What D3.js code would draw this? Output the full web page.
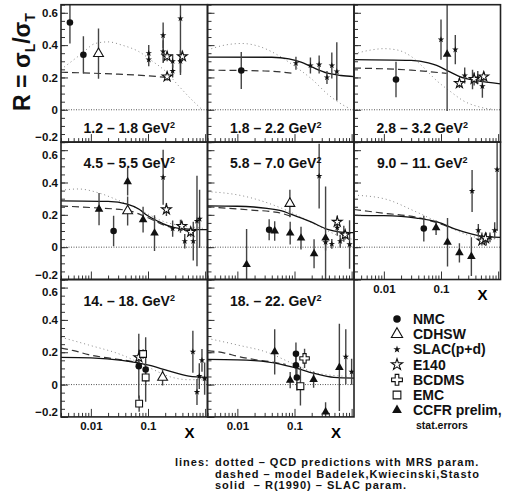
<!DOCTYPE html>
<html>
<head>
<meta charset="utf-8">
<script src="https://cdn.jsdelivr.net/npm/d3@7"></script>
<style>
  html, body { margin: 0; padding: 0; background: #fff; }
  svg { display: block; font-family: "Liberation Sans", Arial, sans-serif; font-weight: bold; }
</style>
</head>
<body>
<svg id="chart" width="511" height="504"></svg>
<script>
// Q^2 bins, one panel each
const qBins = ["1.2 – 1.8", "1.8 – 2.2", "2.8 – 3.2", "4.5 – 5.5", "5.8 – 7.0", "9.0 – 11.", "14. – 18.", "18. – 22."];

// measurements: [panel, x, R, error]
const nmc = [[0,0.0043,0.54,0.13],[0,0.0074,0.34,0.115],[1,0.0117,0.243,0.115],[2,0.0163,0.187,0.11],
  [3,0.025,0.10,0.095],[4,0.036,0.108,0.065],[5,0.05,0.115,0.08],[6,0.069,0.114,0.2],[6,0.091,0.093,0.2],
  [7,0.106,0.19,0.07],[7,0.106,0.12,0.08],[7,0.11,0.044,0.08]];
const cdhsw = [[0,0.0136,0.347,0.155],[3,0.044,0.224,0.09],[4,0.083,0.27,0.085],[6,0.18,0.044,0.05]];
const slac = [[0,0.103,0.35,0.05],[0,0.103,0.31,0.04],[0,0.184,0.46,0.08],[0,0.184,0.36,0.07],[0,0.27,0.30,0.04],
  [0,0.27,0.24,0.04],[0,0.37,0.565,0.35],[0,0.37,0.30,0.07],
  [1,0.106,0.288,0.04],[1,0.19,0.274,0.05],[1,0.27,0.28,0.055],[1,0.37,0.20,0.04],[1,0.45,0.274,0.08],[1,0.55,0.237,0.18],
  [2,0.10,0.434,0.125],[2,0.178,0.372,0.09],[2,0.26,0.212,0.05],[2,0.356,0.187,0.06],[2,0.44,0.20,0.04],[2,0.53,0.145,0.07],
  [3,0.184,0.432,0.17],[3,0.27,0.115,0.05],[3,0.37,0.129,0.04],[3,0.44,0.037,0.045],[3,0.62,0.037,0.12],[3,0.72,0.162,0.28],[3,0.8,0.175,0.18],
  [4,0.27,0.44,0.2],[4,0.35,0.03,0.05],[4,0.45,0.02,0.03],[4,0.56,0.12,0.05],[4,0.63,0.037,0.04],[4,0.73,0.083,0.05],[4,0.92,0.017,0.15],
  [5,0.35,0.347,0.13],[5,0.45,0.104,0.04],[5,0.52,0.06,0.03],[5,0.62,0.05,0.04],[5,0.72,0.06,0.03],[5,0.87,0.104,0.05],[5,0.96,0.48,0.38],
  [6,0.61,0.203,0.13],[6,0.72,-0.046,0.08],[6,0.79,0.052,0.08],[6,0.88,0.15,0.07],[6,0.98,0.037,0.1],
  [7,0.79,0.172,0.17],[7,1.0,0.079,0.08]];
const e140 = [[0,0.216,0.33,0.03],[0,0.216,0.205,0.025],[0,0.40,0.33,0.03],
  [2,0.21,0.164,0.03],[2,0.38,0.19,0.04],[2,0.56,0.205,0.03],
  [3,0.21,0.233,0.04],[3,0.39,0.13,0.03],[3,0.56,0.094,0.03],
  [4,0.56,0.156,0.04],[4,0.77,0.077,0.03],
  [5,0.52,0.04,0.03],[5,0.6,0.055,0.03],
  [6,0.069,0.168,0.05]];
const bcdms = [[7,0.15,0.162,0.06]];
const emc = [[6,0.07,-0.118,0.05],[6,0.082,0.189,0.03],[6,0.091,0.044,0.03],[7,0.127,-0.01,0.12]];
const ccfr = [[2,0.128,0.343,0.35],
  [3,0.0139,0.235,0.1],[3,0.044,0.405,0.085],[3,0.082,0.17,0.08],[3,0.13,0.087,0.11],
  [4,0.0145,-0.108,0.22],[4,0.045,0.1,0.06],[4,0.084,0.087,0.07],[4,0.13,0.056,0.07],[4,0.22,-0.041,0.09],[4,0.35,0.056,0.32],
  [5,0.082,0.12,0.045],[5,0.13,0.03,0.15],[5,0.21,-0.035,0.06],[5,0.34,-0.058,0.12],
  [7,0.045,0.203,0.14],[7,0.084,0.027,0.05],[7,0.216,0.031,0.05],[7,0.35,-0.17,0.06],[7,0.61,0.106,0.27]];

// model curves per panel: [x, R]
const qcdMRS = [
  [[0.003,0.25],[0.0037,0.274],[0.0069,0.347],[0.0119,0.41],[0.02,0.42],[0.035,0.40],[0.069,0.36],[0.12,0.30],[0.2,0.24],[0.34,0.15],[0.52,0.08],[0.89,0.0]],
  [[0.003,0.37],[0.006,0.40],[0.012,0.41],[0.025,0.39],[0.05,0.34],[0.1,0.27],[0.2,0.19],[0.4,0.09],[0.7,0.03],[0.9,0.01]],
  [[0.003,0.345],[0.006,0.37],[0.01,0.378],[0.017,0.37],[0.03,0.33],[0.05,0.26],[0.084,0.18],[0.15,0.11],[0.245,0.056],[0.5,0.015],[1.0,0.0]],
  [[0.003,0.352],[0.006,0.36],[0.0145,0.333],[0.03,0.29],[0.056,0.25],[0.1,0.205],[0.166,0.166],[0.3,0.14],[0.49,0.129],[1.0,0.115]],
  [[0.003,0.343],[0.006,0.335],[0.0114,0.32],[0.03,0.28],[0.06,0.24],[0.128,0.187],[0.3,0.12],[0.6,0.07],[1.0,0.05]],
  [[0.003,0.322],[0.01,0.30],[0.037,0.218],[0.145,0.12],[0.4,0.062],[1.0,0.05]],
  [[0.003,0.293],[0.0091,0.245],[0.035,0.183],[0.103,0.106],[0.25,0.047],[0.52,0.03],[1.0,0.03]],
  [[0.003,0.286],[0.01,0.245],[0.033,0.2],[0.1,0.125],[0.25,0.07],[0.9,0.05]]
];
const modelBKS = [
  [[0.003,0.232],[0.03,0.22],[0.1,0.21],[0.21,0.20]],
  [[0.003,0.245],[0.03,0.24],[0.1,0.225]],
  [[0.003,0.258],[0.03,0.245],[0.125,0.225]],
  [[0.003,0.255],[0.01,0.245],[0.043,0.228],[0.096,0.185],[0.216,0.13],[0.37,0.115],[0.6,0.11]],
  [[0.003,0.25],[0.017,0.23],[0.05,0.215],[0.09,0.19]],
  [[0.003,0.233],[0.01,0.21],[0.037,0.185],[0.086,0.15],[0.15,0.12]],
  [[0.003,0.225],[0.005,0.21],[0.0091,0.185],[0.02,0.165],[0.04,0.15],[0.07,0.135]],
  [[0.003,0.21],[0.006,0.195],[0.01,0.175],[0.02,0.155],[0.04,0.14],[0.07,0.125]]
];
const r1990 = [
  [],
  [[0.003,0.326],[0.04,0.325],[0.08,0.315],[0.13,0.295],[0.2,0.265],[0.38,0.226],[0.65,0.212],[1.1,0.205]],
  [[0.003,0.31],[0.03,0.305],[0.06,0.29],[0.084,0.274],[0.143,0.234],[0.245,0.197],[0.42,0.18],[1.1,0.16]],
  [[0.003,0.287],[0.02,0.283],[0.043,0.266],[0.07,0.235],[0.096,0.197],[0.15,0.16],[0.216,0.135],[0.37,0.115],[1.1,0.108]],
  [[0.003,0.256],[0.01,0.253],[0.033,0.24],[0.06,0.225],[0.086,0.204],[0.195,0.156],[0.38,0.11],[0.6,0.095],[1.1,0.09]],
  [[0.003,0.197],[0.01,0.195],[0.037,0.18],[0.086,0.156],[0.19,0.108],[0.43,0.073],[1.1,0.06]],
  [[0.003,0.168],[0.01,0.165],[0.035,0.15],[0.103,0.12],[0.23,0.085],[0.52,0.052],[1.1,0.044]],
  [[0.003,0.156],[0.01,0.153],[0.033,0.141],[0.098,0.106],[0.22,0.069],[0.49,0.044],[1.1,0.04]]
];

// axis ticks
const yMajor = [-0.2, 0, 0.2, 0.4, 0.6];
const yMinor = d3.range(-0.2, 0.651, 0.05);
const xMajor = [0.01, 0.1, 1];
const xLabels = [0.01, 0.1];

const xDomain = [0.003, 1.1];
const yDomain = [-0.2, 0.65];

// layout
const L = 61, T = 4.7, W = 146.5, H = 137.4;
const svg = d3.select("#chart");
const x = d3.scaleLog().domain(xDomain).range([0, W]);
const y = d3.scaleLinear().domain(yDomain).range([H, 0]);
const xMinor = [];
[0.001, 0.01, 0.1].forEach(d => { for (let k = 2; k <= 9; k++) { const v = d * k; if (v >= xDomain[0] && v <= xDomain[1]) xMinor.push(v); } });

const markers = {
  nmc:   { sym: d3.symbolCircle,   size: 34, fill: "#111", stroke: "none" },
  cdhsw: { sym: d3.symbolTriangle, size: 42, fill: "#fff", stroke: "#111" },
  slac:  { sym: d3.symbolStar,     size: 13, fill: "#111", stroke: "none" },
  e140:  { sym: d3.symbolStar,     size: 30, fill: "#fff", stroke: "#111" },
  bcdms: { sym: d3.symbolCross,    size: 50, fill: "#fff", stroke: "#111" },
  emc:   { sym: d3.symbolSquare,   size: 46, fill: "#fff", stroke: "#111" },
  ccfr:  { sym: d3.symbolTriangle, size: 32, fill: "#111", stroke: "none" }
};
const sets = [["nmc", nmc], ["cdhsw", cdhsw], ["slac", slac], ["e140", e140], ["bcdms", bcdms], ["emc", emc], ["ccfr", ccfr]];

const line = d3.line().x(d => x(d[0])).y(d => y(d[1])).curve(d3.curveMonotoneX);

const defs = svg.append("defs");
defs.append("clipPath").attr("id", "pclip").append("rect").attr("width", W).attr("height", H);

qBins.forEach((label, p) => {
  const col = p % 3, row = Math.floor(p / 3);
  const g = svg.append("g").attr("transform", `translate(${L + col * W},${T + row * H})`);
  const plot = g.append("g").attr("clip-path", "url(#pclip)");

  // zero line
  plot.append("line").attr("x1", 0).attr("x2", W).attr("y1", y(0)).attr("y2", y(0))
    .attr("stroke", "#555").attr("stroke-width", 1).attr("stroke-dasharray", "1,1.5");

  // model curves
  plot.append("path").attr("d", line(qcdMRS[p])).attr("fill", "none")
    .attr("stroke", "#888").attr("stroke-width", 1).attr("stroke-dasharray", "1,3");
  plot.append("path").attr("d", line(modelBKS[p])).attr("fill", "none")
    .attr("stroke", "#333").attr("stroke-width", 1.2).attr("stroke-dasharray", "7,4");
  if (r1990[p].length) plot.append("path").attr("d", line(r1990[p])).attr("fill", "none")
    .attr("stroke", "#111").attr("stroke-width", 1.3);

  // error bars and markers
  sets.forEach(([key, data]) => {
    const pts = data.filter(d => d[0] === p);
    plot.selectAll(null).data(pts).join("line")
      .attr("x1", d => x(d[1])).attr("x2", d => x(d[1]))
      .attr("y1", d => y(d[2] - d[3])).attr("y2", d => y(d[2] + d[3]))
      .attr("stroke", "#444").attr("stroke-width", 1.4);
  });
  sets.forEach(([key, data]) => {
    const m = markers[key];
    const pts = data.filter(d => d[0] === p);
    plot.selectAll(null).data(pts).join("path")
      .attr("transform", d => `translate(${x(d[1])},${y(d[2])})`)
      .attr("d", d3.symbol(m.sym, m.size))
      .attr("fill", m.fill).attr("stroke", m.stroke).attr("stroke-width", 1.1);
  });

  // left axis: ticks pointing inward
  const ya = g.append("g").call(d3.axisLeft(y).tickValues(yMajor).tickSize(-7).tickPadding(3)
    .tickFormat(d => d === 0 ? "0" : d3.format(".1f")(d).replace("-", "−")));
  g.append("g").call(d3.axisLeft(y).tickValues(yMinor).tickSize(-4).tickFormat(""));
  if (col !== 0) ya.selectAll("text").remove();
  else {
    ya.selectAll("text").attr("dy", d => d === -0.2 ? "-0.1em" : (d === 0.6 && row > 0 ? "0.7em" : "0.32em"));
  }

  // bottom axis
  const xa = g.append("g").attr("transform", `translate(0,${H})`)
    .call(d3.axisBottom(x).tickValues(xMajor.filter(v => v <= xDomain[1])).tickSize(-8).tickPadding(5)
      .tickFormat(d => xLabels.includes(d) ? String(d) : ""));
  g.append("g").attr("transform", `translate(0,${H})`)
    .call(d3.axisBottom(x).tickValues(xMinor).tickSize(-4).tickFormat(""));
  const showX = p >= 5;
  if (!showX) xa.selectAll("text").remove();
  else {
    g.append("text").attr("x", W - 18).attr("y", H + 21).attr("text-anchor", "middle")
      .attr("font-size", 15).text("X");
  }

  g.selectAll(".domain").remove();
  g.selectAll(".tick line").attr("stroke", "#333").attr("stroke-width", 1);
  g.selectAll(".tick text").attr("font-size", 11.5).attr("font-weight", "bold")
    .attr("font-family", "Liberation Sans, Arial, sans-serif").attr("fill", "#111");

  // frame
  g.append("rect").attr("width", W).attr("height", H).attr("fill", "none")
    .attr("stroke", "#222").attr("stroke-width", 1.6);

  // Q^2 label
  const ty = row === 0 ? H - 9 : 26;
  const t = g.append("text").attr("x", W / 2 - 5).attr("y", ty).attr("text-anchor", "middle")
    .attr("font-size", 14).attr("fill", "#111");
  t.append("tspan").text(label + " GeV");
  t.append("tspan").attr("dy", -5).attr("font-size", 9).text("2");
});

// y axis title
const yt = svg.append("text").attr("transform", "translate(30,62) rotate(-90)")
  .attr("text-anchor", "middle").attr("font-size", 23).attr("fill", "#111");
yt.append("tspan").text("R = σ");
yt.append("tspan").attr("dy", 5).attr("font-size", 14).text("L");
yt.append("tspan").attr("dy", -5).text("/σ");
yt.append("tspan").attr("dy", 5).attr("font-size", 14).text("T");

// legend
const legendItems = [["nmc", "NMC"], ["cdhsw", "CDHSW"], ["slac", "SLAC(p+d)"], ["e140", "E140"],
  ["bcdms", "BCDMS"], ["emc", "EMC"], ["ccfr", "CCFR prelim,"]];
const lg = svg.append("g");
legendItems.forEach(([key, name], i) => {
  const m = markers[key];
  const yy = 319 + i * 15.2;
  lg.append("path").attr("transform", `translate(397,${yy})`)
    .attr("d", d3.symbol(m.sym, m.size * 1.3))
    .attr("fill", m.fill).attr("stroke", m.stroke).attr("stroke-width", 1.1);
  lg.append("text").attr("x", 413).attr("y", yy + 5).attr("font-size", 14).attr("fill", "#111").text(name);
});
lg.append("text").attr("x", 416).attr("y", 429).attr("font-size", 10.5).attr("fill", "#111").text("stat.errors");

// note on the curves
const notes = svg.append("g").attr("font-size", 11).attr("fill", "#111").attr("letter-spacing", 1);
notes.append("text").attr("x", 175).attr("y", 466).text("lines:");
["dotted – QCD predictions with MRS param.",
 "dashed – model Badelek,Kwiecinski,Stasto",
 "solid  – R(1990) – SLAC param."].forEach((s, i) => {
  notes.append("text").attr("x", 215).attr("y", 466 + i * 11.5).attr("xml:space", "preserve").text(s);
});
</script>
</body>
</html>
